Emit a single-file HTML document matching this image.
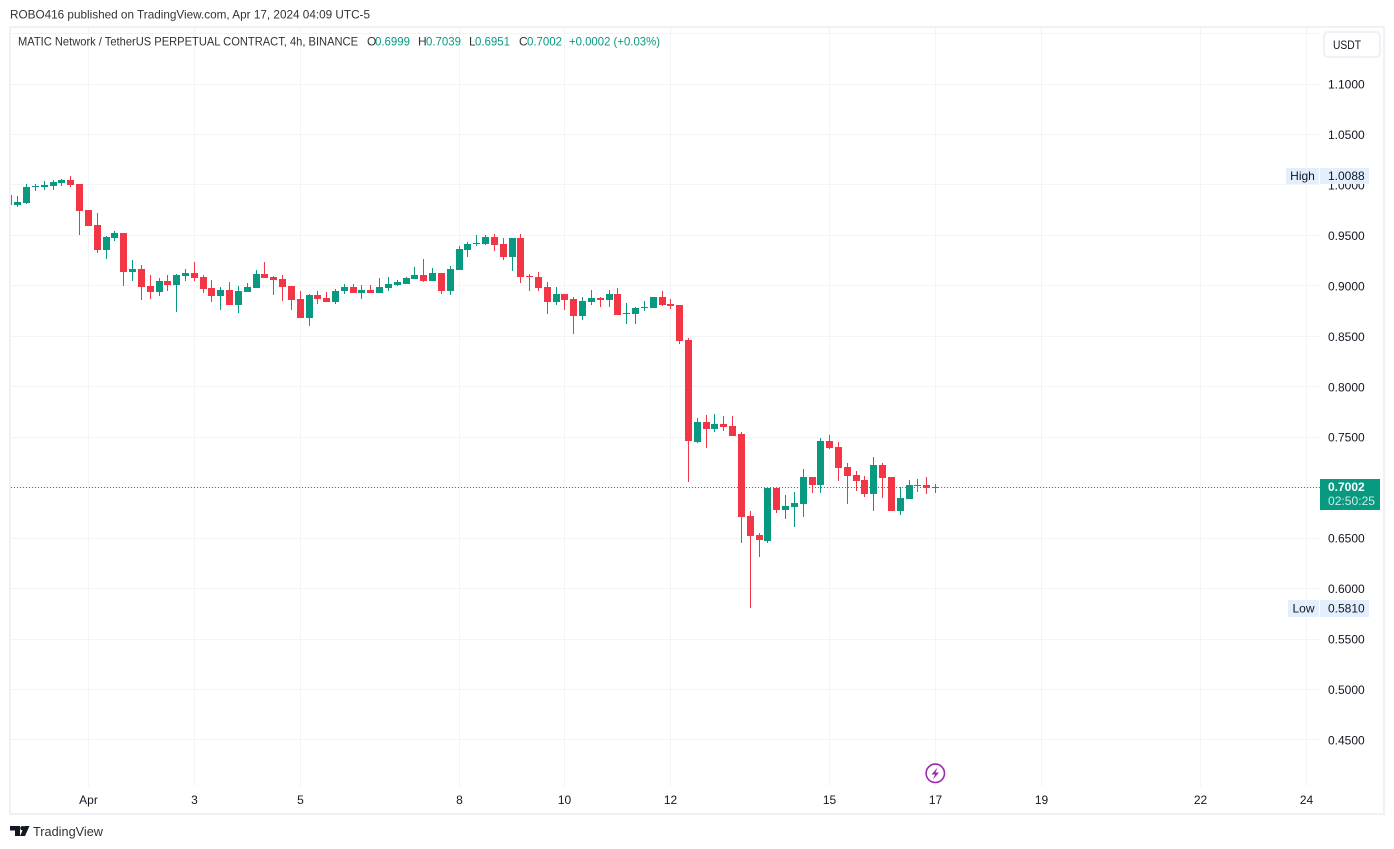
<!DOCTYPE html>
<html lang="en">
<head>
<meta charset="utf-8">
<title>MATIC / USDT 4h chart</title>
<style>
  html, body { margin: 0; padding: 0; background: #ffffff; }
  body { width: 1394px; height: 849px; overflow: hidden; }
  svg { display: block; font-family: "Liberation Sans", "DejaVu Sans", sans-serif; }
</style>
</head>
<body>
<svg id="chart" xmlns="http://www.w3.org/2000/svg" width="1394" height="849" viewBox="0 0 1394 849">
  <defs>
    <clipPath id="plot-clip"><rect x="11" y="28" width="1309" height="759"></rect></clipPath>
  </defs>
  <rect x="0" y="0" width="1394" height="849" fill="#ffffff"></rect>
  <text x="10" y="18.5" font-size="12" fill="#333333" textLength="360" lengthAdjust="spacingAndGlyphs">ROBO416 published on TradingView.com, Apr 17, 2024 04:09 UTC-5</text>
  <rect x="10" y="27" width="1374" height="787" fill="none" stroke="#f0f0f6" stroke-width="2"></rect>
  <g id="grid"></g>
  <g id="last-line"></g>
  <g id="candles" clip-path="url(#plot-clip)"></g>
  <g font-size="12">
    <text x="18" y="45.5" fill="#333333" textLength="340" lengthAdjust="spacingAndGlyphs">MATIC Network / TetherUS PERPETUAL CONTRACT, 4h, BINANCE</text>
    <text x="367" y="45.5" fill="#333333">O</text>
    <text x="375" y="45.5" fill="#089981" textLength="35" lengthAdjust="spacingAndGlyphs">0.6999</text>
    <text x="418" y="45.5" fill="#333333">H</text>
    <text x="426" y="45.5" fill="#089981" textLength="35" lengthAdjust="spacingAndGlyphs">0.7039</text>
    <text x="469" y="45.5" fill="#333333">L</text>
    <text x="475" y="45.5" fill="#089981" textLength="35" lengthAdjust="spacingAndGlyphs">0.6951</text>
    <text x="519" y="45.5" fill="#333333">C</text>
    <text x="527" y="45.5" fill="#089981" textLength="35" lengthAdjust="spacingAndGlyphs">0.7002</text>
    <text x="569" y="45.5" fill="#089981" textLength="91" lengthAdjust="spacingAndGlyphs">+0.0002 (+0.03%)</text>
  </g>
  <g id="price-axis"></g>
  <g id="time-axis"></g>
  <g>
    <rect x="1324" y="32" width="56" height="25" rx="4" fill="#ffffff" stroke="#f0f0f6" stroke-width="2"></rect>
    <text x="1333" y="49" font-size="12" fill="#131722" textLength="28" lengthAdjust="spacingAndGlyphs">USDT</text>
  </g>
  <g id="markers"></g>
  <g>
    <circle cx="935.3" cy="773.3" r="9.2" fill="#ffffff" stroke="#9c27b0" stroke-width="1.6"></circle>
    <polygon points="937.5,767.5 931.5,774.5 935,774.5 933,779.5 939,772.5 935.5,772.5" fill="#9c27b0"></polygon>
  </g>
  <g>
    <polygon points="10,826 20,826 20,836 15,836 15,830.5 10,830.5" fill="#131722"></polygon>
    <circle cx="22.5" cy="828.2" r="2.2" fill="#131722"></circle>
    <polygon points="24.5,826 29.5,826 25,836 20,836" fill="#131722"></polygon>
    <text x="33" y="836" font-size="13" fill="#333333" textLength="70" lengthAdjust="spacingAndGlyphs">TradingView</text>
  </g>
</svg>
<script>
// Candle data, oldest first. barOffset is the bar number of the first candle relative to Apr 1.
const barOffset = -9;
const opens = [0.9900,0.9800,0.9820,0.9981,0.9979,0.9989,1.0018,1.0048,1.0008,0.9751,0.9602,0.9355,0.9473,0.9523,0.9137,0.9166,0.8998,0.8939,0.9048,0.9008,0.9097,0.9127,0.9087,0.8979,0.8899,0.8959,0.8810,0.8939,0.8979,0.9117,0.9087,0.9068,0.8998,0.8869,0.8681,0.8909,0.8879,0.8840,0.8949,0.8988,0.8929,0.8959,0.8929,0.8979,0.9008,0.9018,0.9068,0.9107,0.9048,0.9127,0.8949,0.9157,0.9355,0.9414,0.9414,0.9483,0.9414,0.9285,0.9473,0.9097,0.9087,0.8988,0.8840,0.8919,0.8869,0.8701,0.8840,0.8879,0.8859,0.8919,0.8721,0.8721,0.8780,0.8780,0.8889,0.8820,0.8810,0.8463,0.7452,0.7651,0.7581,0.7631,0.7611,0.7532,0.6719,0.6531,0.6471,0.6996,0.6778,0.6808,0.6838,0.7105,0.7026,0.7462,0.7403,0.7204,0.7125,0.7076,0.6937,0.7224,0.7105,0.6768,0.6887,0.7026,0.7026,0.6999];
const highs = [0.9900,0.9890,1.0008,1.0008,1.0038,1.0048,1.0058,1.0088,1.0008,0.9751,0.9721,0.9493,0.9543,0.9523,0.9256,0.9206,0.9107,0.9077,0.9107,0.9117,0.9166,0.9236,0.9107,0.9058,0.8988,0.9038,0.8998,0.9028,0.9157,0.9236,0.9097,0.9107,0.8998,0.8949,0.8919,0.8949,0.8939,0.8969,0.9018,0.9018,0.9008,0.9008,0.9077,0.9087,0.9058,0.9087,0.9186,0.9266,0.9176,0.9127,0.9196,0.9394,0.9434,0.9503,0.9503,0.9513,0.9473,0.9473,0.9513,0.9117,0.9137,0.9038,0.8988,0.8919,0.8889,0.8889,0.8959,0.8889,0.8959,0.8979,0.8830,0.8790,0.8850,0.8889,0.8949,0.8869,0.8810,0.8483,0.7690,0.7720,0.7730,0.7710,0.7710,0.7551,0.6768,0.6550,0.6996,0.6996,0.6927,0.6957,0.7185,0.7105,0.7492,0.7522,0.7452,0.7244,0.7165,0.7115,0.7304,0.7244,0.7105,0.7006,0.7076,0.7086,0.7105,0.7039];
const lows = [0.9800,0.9781,0.9810,0.9939,0.9949,0.9949,0.9989,0.9979,0.9503,0.9592,0.9325,0.9266,0.9444,0.8998,0.9048,0.8859,0.8869,0.8899,0.8949,0.8741,0.9048,0.9048,0.8929,0.8840,0.8760,0.8810,0.8731,0.8939,0.8979,0.9077,0.8909,0.8850,0.8760,0.8681,0.8602,0.8820,0.8840,0.8820,0.8919,0.8929,0.8869,0.8929,0.8929,0.8949,0.8998,0.9018,0.9068,0.9038,0.9048,0.8919,0.8909,0.9157,0.9285,0.9394,0.9404,0.9345,0.9256,0.9147,0.9028,0.8949,0.8949,0.8721,0.8810,0.8760,0.8523,0.8661,0.8810,0.8790,0.8790,0.8711,0.8622,0.8622,0.8750,0.8780,0.8800,0.8770,0.8423,0.7056,0.7442,0.7393,0.7551,0.7561,0.7512,0.6451,0.5810,0.6313,0.6451,0.6748,0.6689,0.6610,0.6709,0.6947,0.6947,0.7383,0.7066,0.6838,0.6967,0.6907,0.6768,0.6897,0.6768,0.6729,0.6887,0.6957,0.6937,0.6951];
const closes = [0.9800,0.9830,0.9979,0.9989,0.9998,1.0028,1.0048,0.9998,0.9741,0.9592,0.9355,0.9483,0.9523,0.9137,0.9166,0.8988,0.8939,0.9048,0.9008,0.9107,0.9127,0.9077,0.8969,0.8899,0.8959,0.8810,0.8949,0.8988,0.9117,0.9077,0.9058,0.8988,0.8859,0.8681,0.8909,0.8869,0.8840,0.8949,0.8988,0.8929,0.8959,0.8929,0.8988,0.9018,0.9038,0.9077,0.9107,0.9048,0.9127,0.8949,0.9166,0.9365,0.9414,0.9424,0.9483,0.9404,0.9285,0.9473,0.9087,0.9087,0.8979,0.8840,0.8919,0.8859,0.8701,0.8850,0.8879,0.8859,0.8919,0.8711,0.8731,0.8780,0.8790,0.8889,0.8810,0.8800,0.8453,0.7462,0.7651,0.7581,0.7631,0.7601,0.7512,0.6709,0.6521,0.6481,0.6996,0.6778,0.6818,0.6848,0.7105,0.7026,0.7462,0.7393,0.7195,0.7115,0.7066,0.6937,0.7224,0.7096,0.6768,0.6897,0.7026,0.7016,0.6996,0.7002];
const gridPrices = [1.15,1.10,1.05,1.00,0.95,0.90,0.85,0.80,0.75,0.70,0.65,0.60,0.55,0.50,0.45,0.40];
const priceTickLabels = ["1.1000","1.0500","1.0000","0.9500","0.9000","0.8500","0.8000","0.7500","0.7000","0.6500","0.6000","0.5500","0.5000","0.4500"];
const priceTickValues = [1.10,1.05,1.00,0.95,0.90,0.85,0.80,0.75,0.70,0.65,0.60,0.55,0.50,0.45];
const timeTickLabels = ["Apr","3","5","8","10","12","15","17","19","22","24"];
const timeTickBars = [0,12,24,42,54,66,84,96,108,126,138];
const countdownText = "02:50:25";

const NS = "http://www.w3.org/2000/svg";
const UP = "#089981";
const DOWN = "#f23645";
const yOf = function (price) { return 84 + (1.1 - price) * 1009.2; };
const xOf = function (bar) { return 88.4 + 8.825 * bar; };

function make(parent, tag, attrs, text) {
  const el = document.createElementNS(NS, tag);
  for (const key in attrs) { el.setAttribute(key, attrs[key]); }
  if (text !== undefined) { el.textContent = text; }
  parent.appendChild(el);
  return el;
}

const gridLayer = document.getElementById("grid");
const candleLayer = document.getElementById("candles");
const priceLayer = document.getElementById("price-axis");
const timeLayer = document.getElementById("time-axis");
const markerLayer = document.getElementById("markers");
const lastLayer = document.getElementById("last-line");

gridPrices.forEach(function (price) {
  const y = Math.floor(yOf(price));
  if (y < 28 || y >= 787) { return; }
  const line = make(gridLayer, "rect", { x: 11, y: y, width: 1309, height: 1, fill: "#f3f4f7" });
  
  
});

timeTickBars.forEach(function (bar, i) {
  const x = Math.floor(xOf(bar));
  const line = make(gridLayer, "rect", { x: x, y: 28, width: 1, height: 758, fill: "#f3f4f7" });
  
  
  const label = make(timeLayer, "text", { x: x + 0.5, y: 804, "font-size": 12, fill: "#131722", "text-anchor": "middle" }, timeTickLabels[i]);
  
  
});

priceTickValues.forEach(function (price, i) {
  const label = make(priceLayer, "text", { x: 1328, y: yOf(price) + 4.5, "font-size": 12, fill: "#131722" }, priceTickLabels[i]);
  
  
});

opens.forEach(function (open, i) {
  const close = closes[i];
  const color = close >= open ? UP : DOWN;
  const cx = Math.floor(xOf(i + barOffset));
  const bodyTop = Math.round(yOf(Math.max(open, close)));
  const bodyBottom = Math.round(yOf(Math.min(open, close)));
  const wickTop = Math.round(yOf(highs[i]));
  const wickBottom = Math.round(yOf(lows[i]));
  const wick = make(candleLayer, "rect", { x: cx, y: wickTop, width: 1, height: Math.max(1, wickBottom - wickTop), fill: color });
  
  
  const body = make(candleLayer, "rect", { x: cx - 3, y: bodyTop, width: 7, height: Math.max(1, bodyBottom - bodyTop), fill: color });
  
  
});

const lastClose = closes[closes.length - 1];
const lastOpen = opens[opens.length - 1];
const lastColor = lastClose >= lastOpen ? UP : DOWN;
const lastY = Math.floor(yOf(lastClose));
const dotted = make(lastLayer, "line", { x1: 11, x2: 1320, y1: lastY + 0.5, y2: lastY + 0.5, stroke: lastColor, "stroke-width": 1, "stroke-dasharray": "1 2" });



const highValue = Math.max.apply(null, highs);
const lowValue = Math.min.apply(null, lows);
const highY = yOf(highValue);
const lowY = yOf(lowValue);

const highTagKey = make(markerLayer, "rect", { x: 1286, y: Math.round(highY) - 8, width: 33, height: 16, fill: "#e3effd" });


const highTagVal = make(markerLayer, "rect", { x: 1320, y: Math.round(highY) - 8, width: 49, height: 16, fill: "#e3effd" });


const highCaption = make(markerLayer, "text", { x: 1302.5, y: Math.round(highY) + 4, "font-size": 12, fill: "#131722", "text-anchor": "middle" }, "High");


const highText = make(markerLayer, "text", { x: 1328, y: Math.round(highY) + 4, "font-size": 12, fill: "#131722" }, highValue.toFixed(4));



const lowTagKey = make(markerLayer, "rect", { x: 1288, y: Math.round(lowY) - 8, width: 31, height: 17, fill: "#e3effd" });


const lowTagVal = make(markerLayer, "rect", { x: 1320, y: Math.round(lowY) - 8, width: 49, height: 17, fill: "#e3effd" });


const lowCaption = make(markerLayer, "text", { x: 1303.5, y: Math.round(lowY) + 4.5, "font-size": 12, fill: "#131722", "text-anchor": "middle" }, "Low");


const lowText = make(markerLayer, "text", { x: 1328, y: Math.round(lowY) + 4.5, "font-size": 12, fill: "#131722" }, lowValue.toFixed(4));



const tag = make(markerLayer, "rect", { x: 1320, y: lastY - 8, width: 60, height: 31, fill: lastColor });


const tagPrice = make(markerLayer, "text", { x: 1328, y: lastY + 4, "font-size": 12, "font-weight": "bold", fill: "#ffffff" }, lastClose.toFixed(4));


const tagTime = make(markerLayer, "text", { x: 1328, y: lastY + 18, "font-size": 12, fill: "#ffffff", "fill-opacity": 0.8, textLength: 47, lengthAdjust: "spacingAndGlyphs" }, countdownText);


</script>
</body>
</html>
